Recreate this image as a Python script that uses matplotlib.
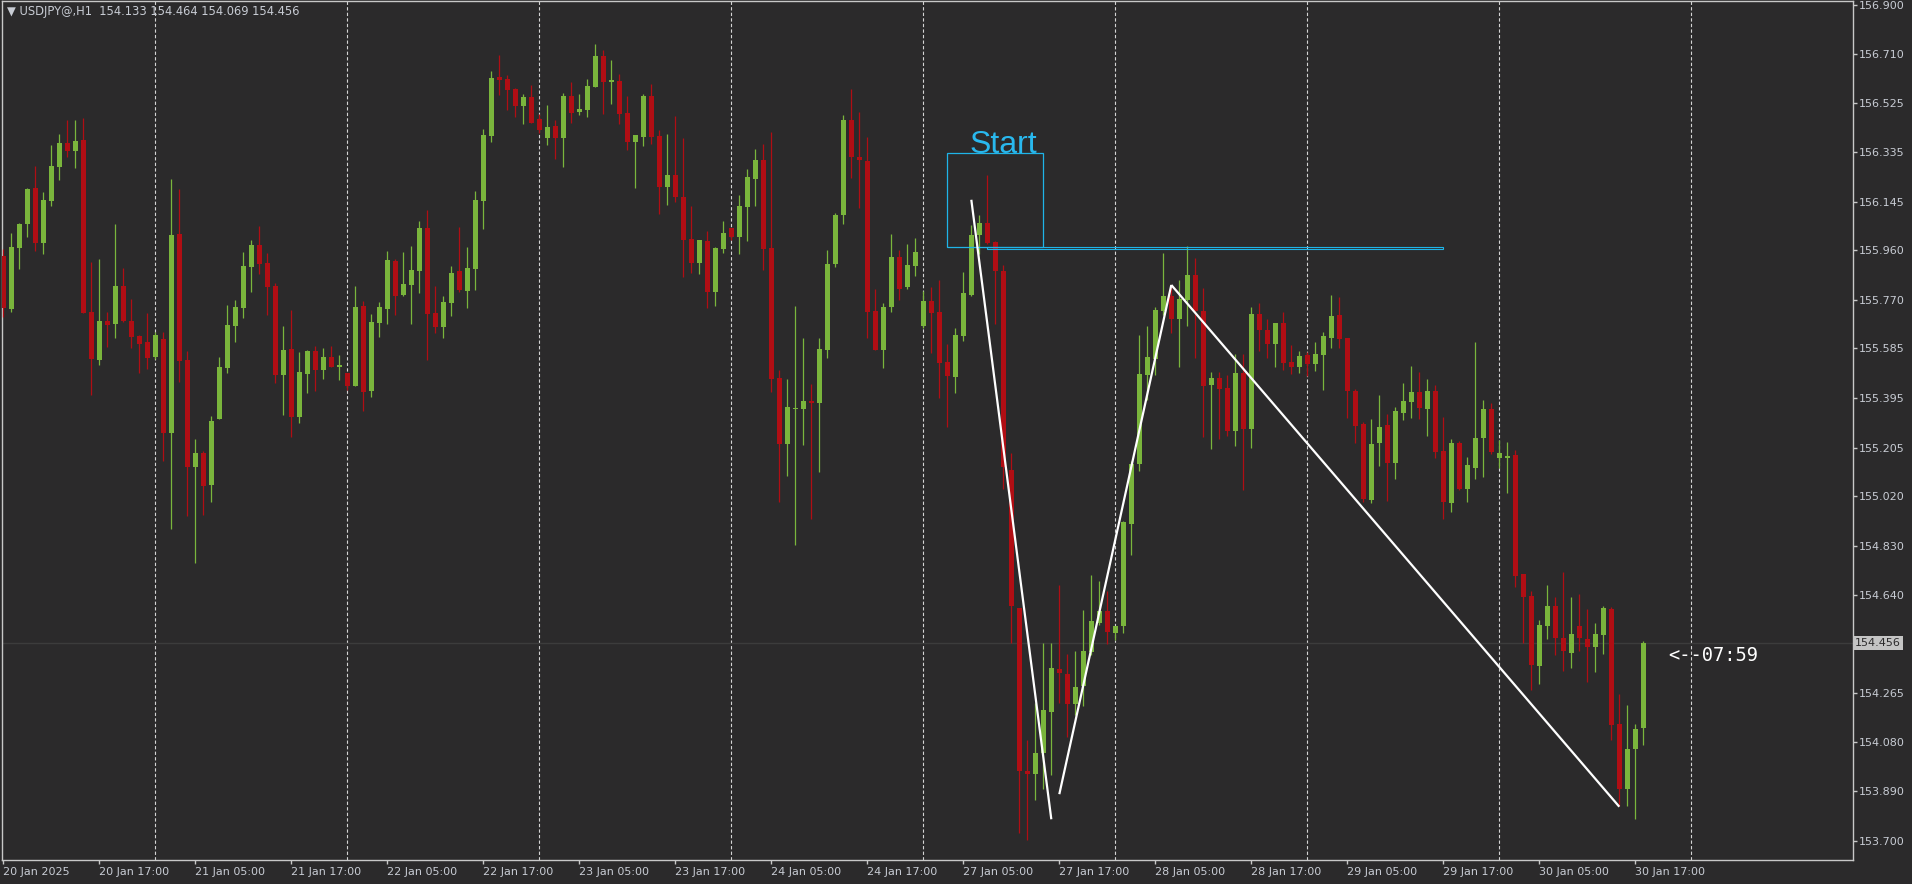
import numpy as np
import matplotlib
matplotlib.use("Agg")
import matplotlib.pyplot as plt
import matplotlib.transforms as mtransforms

# hourly USDJPY candles (bar 0 = 20 Jan 05:00)
open_ = [155.938, 155.735, 155.970, 156.061, 156.198, 155.989, 156.149, 156.279, 156.370, 156.339,
         156.381, 155.724, 155.540, 155.689, 155.678, 155.823, 155.689, 155.632, 155.609, 155.551,
         155.620, 155.261, 156.022, 155.540, 155.131, 155.184, 155.062, 155.314, 155.509, 155.670,
         155.739, 155.896, 155.980, 155.911, 155.823, 155.483, 155.582, 155.322, 155.486, 155.574,
         155.502, 155.551, 155.513, 155.490, 155.441, 155.747, 155.421, 155.682, 155.735, 155.919,
         155.789, 155.827, 155.881, 156.045, 155.720, 155.666, 155.758, 155.881, 155.804, 155.888,
         156.148, 156.397, 156.623, 156.615, 156.577, 156.512, 156.546, 156.462, 156.389, 156.435,
         156.389, 156.550, 156.489, 156.497, 156.584, 156.703, 156.604, 156.607, 156.485, 156.374,
         156.393, 156.550, 156.397, 156.202, 156.248, 156.164, 156.003, 155.911, 155.995, 155.800,
         155.965, 156.045, 156.011, 156.125, 156.232, 156.305, 155.969, 155.471, 155.219, 155.353,
         155.353, 155.383, 155.376, 155.577, 155.907, 156.096, 156.458, 156.318, 156.302, 155.727,
         155.577, 155.741, 155.933, 155.819, 155.901, 155.671, 155.765, 155.723, 155.531, 155.475,
         155.631, 155.789, 156.017, 156.063, 155.991, 155.879, 155.119, 154.593, 153.967, 153.957,
         154.035, 154.195, 154.357, 154.339, 154.225, 154.291, 154.424, 154.534, 154.580, 154.497,
         154.524, 154.914, 155.143, 155.484, 155.545, 155.728, 155.785, 155.698, 155.771, 155.865,
         155.728, 155.446, 155.471, 155.434, 155.270, 155.490, 155.277, 155.716, 155.655, 155.602,
         155.682, 155.532, 155.514, 155.559, 155.526, 155.560, 155.625, 155.712, 155.624, 155.421,
         155.295, 155.006, 155.224, 155.291, 155.147, 155.339, 155.381, 155.418, 155.354, 155.421,
         155.192, 154.994, 155.222, 155.048, 155.128, 155.240, 155.353, 155.166, 155.166, 155.177,
         154.721, 154.637, 154.371, 154.524, 154.599, 154.477, 154.420, 154.522, 154.473, 154.443,
         154.489, 154.588, 154.148, 153.900, 154.052, 154.133]
high = [155.963, 156.026, 156.064, 156.198, 156.282, 156.183, 156.362, 156.404, 156.458, 156.458,
        156.466, 155.915, 155.926, 155.724, 156.060, 155.892, 155.773, 155.635, 155.720, 155.647,
        155.647, 156.232, 156.194, 155.574, 155.238, 155.192, 155.326, 155.551, 155.750, 155.769,
        155.953, 155.999, 156.052, 155.949, 155.834, 155.670, 155.731, 155.571, 155.578, 155.594,
        155.586, 155.594, 155.559, 155.492, 155.823, 155.766, 155.716, 155.762, 155.957, 155.926,
        155.953, 155.976, 156.072, 156.114, 155.823, 155.785, 155.900, 156.049, 155.972, 156.187,
        156.424, 156.646, 156.707, 156.630, 156.581, 156.558, 156.592, 156.481, 156.516, 156.458,
        156.561, 156.604, 156.558, 156.615, 156.749, 156.726, 156.688, 156.634, 156.550, 156.401,
        156.558, 156.596, 156.420, 156.405, 156.473, 156.389, 156.129, 155.999, 156.034, 155.972,
        156.072, 156.045, 156.171, 156.271, 156.347, 156.366, 156.412, 155.502, 155.467, 155.747,
        155.624, 155.448, 155.624, 155.961, 156.104, 156.476, 156.578, 156.490, 156.392, 155.811,
        155.757, 156.021, 155.961, 155.983, 156.007, 155.805, 155.821, 155.845, 155.601, 155.663,
        155.877, 156.055, 156.096, 156.248, 155.997, 155.905, 155.185, 154.593, 154.087, 154.227,
        154.457, 154.457, 154.681, 154.417, 154.427, 154.583, 154.718, 154.695, 154.656, 154.523,
        154.925, 155.154, 155.636, 155.670, 155.743, 155.949, 155.827, 155.846, 155.976, 155.930,
        155.816, 155.494, 155.494, 155.483, 155.563, 155.563, 155.743, 155.758, 155.697, 155.682,
        155.724, 155.597, 155.574, 155.571, 155.609, 155.647, 155.789, 155.781, 155.625, 155.430,
        155.303, 155.314, 155.406, 155.333, 155.360, 155.452, 155.517, 155.494, 155.467, 155.444,
        155.322, 155.238, 155.230, 155.169, 155.609, 155.387, 155.376, 155.234, 155.226, 155.196,
        154.721, 154.655, 154.545, 154.679, 154.633, 154.729, 154.633, 154.645, 154.588, 154.534,
        154.599, 154.595, 154.264, 154.220, 154.148, 154.464]
low = [155.706, 155.725, 155.889, 156.012, 155.957, 155.947, 156.130, 156.230, 156.318, 156.276,
       155.718, 155.406, 155.521, 155.590, 155.624, 155.685, 155.586, 155.490, 155.505, 155.544,
       155.153, 154.893, 155.456, 154.943, 154.763, 154.947, 154.997, 155.314, 155.490, 155.609,
       155.701, 155.800, 155.869, 155.712, 155.452, 155.330, 155.245, 155.299, 155.414, 155.421,
       155.467, 155.513, 155.464, 155.425, 155.441, 155.345, 155.399, 155.628, 155.678, 155.712,
       155.785, 155.678, 155.796, 155.540, 155.643, 155.624, 155.708, 155.800, 155.739, 155.808,
       156.041, 156.374, 156.554, 156.496, 156.470, 156.443, 156.447, 156.408, 156.363, 156.309,
       156.278, 156.447, 156.477, 156.470, 156.584, 156.481, 156.519, 156.443, 156.343, 156.198,
       156.359, 156.366, 156.099, 156.133, 156.144, 155.858, 155.873, 155.869, 155.739, 155.747,
       155.949, 155.999, 155.946, 155.995, 156.129, 155.884, 155.418, 154.998, 155.096, 154.833,
       155.215, 154.932, 155.112, 155.547, 155.895, 156.061, 156.238, 156.122, 155.623, 155.577,
       155.511, 155.725, 155.771, 155.813, 155.863, 155.663, 155.567, 155.393, 155.285, 155.415,
       155.613, 155.783, 155.947, 155.985, 155.677, 155.045, 154.457, 153.732, 153.702, 153.857,
       153.897, 153.951, 154.227, 154.097, 154.183, 154.217, 154.410, 154.526, 154.455, 154.470,
       154.497, 154.795, 155.117, 155.388, 155.484, 155.712, 155.645, 155.515, 155.671, 155.549,
       155.247, 155.201, 155.239, 155.251, 155.212, 155.044, 155.205, 155.576, 155.549, 155.514,
       155.503, 155.488, 155.492, 155.480, 155.499, 155.427, 155.587, 155.587, 155.319, 155.224,
       154.998, 154.994, 155.136, 155.002, 155.086, 155.312, 155.319, 155.316, 155.251, 155.166,
       154.933, 154.960, 155.044, 154.998, 155.086, 155.094, 155.182, 155.128, 155.033, 154.673,
       154.456, 154.279, 154.302, 154.474, 154.413, 154.352, 154.363, 154.428, 154.310, 154.348,
       154.417, 154.088, 153.835, 153.835, 153.785, 154.069]
close = [155.740, 155.972, 156.060, 156.194, 155.989, 156.152, 156.282, 156.370, 156.339, 156.378,
         155.721, 155.544, 155.689, 155.674, 155.823, 155.689, 155.628, 155.601, 155.548, 155.635,
         155.261, 156.018, 155.536, 155.131, 155.184, 155.058, 155.307, 155.513, 155.674, 155.743,
         155.899, 155.980, 155.907, 155.819, 155.482, 155.578, 155.322, 155.494, 155.574, 155.502,
         155.551, 155.513, 155.521, 155.441, 155.743, 155.418, 155.685, 155.743, 155.923, 155.785,
         155.831, 155.884, 156.045, 155.716, 155.666, 155.762, 155.873, 155.808, 155.892, 156.152,
         156.401, 156.619, 156.611, 156.573, 156.512, 156.546, 156.447, 156.420, 156.431, 156.389,
         156.550, 156.485, 156.500, 156.588, 156.703, 156.604, 156.611, 156.481, 156.374, 156.401,
         156.550, 156.393, 156.202, 156.248, 156.164, 155.999, 155.911, 155.999, 155.800, 155.969,
         156.026, 156.011, 156.129, 156.240, 156.305, 155.965, 155.467, 155.219, 155.360, 155.356,
         155.383, 155.376, 155.582, 155.907, 156.096, 156.458, 156.318, 156.304, 155.723, 155.577,
         155.743, 155.933, 155.813, 155.903, 155.953, 155.765, 155.721, 155.527, 155.477, 155.635,
         155.795, 156.017, 156.063, 155.989, 155.879, 155.129, 154.597, 153.967, 153.957, 154.037,
         154.201, 154.361, 154.343, 154.225, 154.289, 154.427, 154.542, 154.580, 154.501, 154.523,
         154.920, 155.142, 155.486, 155.551, 155.731, 155.785, 155.698, 155.773, 155.865, 155.728,
         155.442, 155.471, 155.430, 155.270, 155.490, 155.277, 155.716, 155.656, 155.602, 155.682,
         155.530, 155.514, 155.555, 155.526, 155.563, 155.632, 155.708, 155.622, 155.423, 155.289,
         155.010, 155.219, 155.284, 155.147, 155.345, 155.383, 155.418, 155.358, 155.421, 155.189,
         154.998, 155.222, 155.048, 155.138, 155.242, 155.353, 155.189, 155.184, 155.173, 154.715,
         154.635, 154.372, 154.526, 154.599, 154.478, 154.428, 154.492, 154.478, 154.443, 154.492,
         154.591, 154.145, 153.900, 154.052, 154.128, 154.456]

time_labels = ["20 Jan 2025", "20 Jan 17:00", "21 Jan 05:00", "21 Jan 17:00", "22 Jan 05:00",
               "22 Jan 17:00", "23 Jan 05:00", "23 Jan 17:00", "24 Jan 05:00", "24 Jan 17:00",
               "27 Jan 05:00", "27 Jan 17:00", "28 Jan 05:00", "28 Jan 17:00", "29 Jan 05:00",
               "29 Jan 17:00", "30 Jan 05:00", "30 Jan 17:00"]
time_label_bars = [0, 12, 24, 36, 48, 60, 72, 84, 96, 108, 120, 132, 144, 156, 168, 180, 192, 204]
day_separator_bars = [19, 43, 67, 91, 115, 139, 163, 187, 211]
price_labels = ["153.700", "153.890", "154.080", "154.265", "154.640", "154.830", "155.020",
                "155.205", "155.395", "155.585", "155.770", "155.960", "156.145", "156.335",
                "156.525", "156.710", "156.900"]

# objects drawn on the chart: (bar, price) pairs
zigzag_legs = [[(121, 156.153), (131, 153.783)],
               [(132, 153.879), (146, 155.827)],
               [(146, 155.827), (202, 153.831)]]
start_box = {"bar0": 118, "bar1": 130, "low": 155.973, "high": 156.330}
level_band = {"bar0": 123, "bar1": 180, "low": 155.963, "high": 155.971}
countdown = "<--07:59"

BG = "#2b2a2b"
GREEN = "#7ab53c"
RED = "#b00e14"
TXT = "#c8ccd4"
LINE = "#c8c8c8"
CYAN = "#1fb4e8"

fig = plt.figure(figsize=(19.12, 8.84), dpi=100, facecolor=BG)
ax = fig.add_axes([2 / 1912, 24 / 884, 1851 / 1912, 859 / 884])
ax.set_facecolor(BG)
ax.set_xlim(-0.1625, 231.21)
ax.set_ylim(153.6272, 156.9134)

o = np.array(open_)
h = np.array(high)
l = np.array(low)
c = np.array(close)
x = np.arange(len(o))
colors = np.where(c >= o, GREEN, RED)

# day separators
for b in day_separator_bars:
    ax.axvline(b, color="#d4d4d4", lw=0.8, linestyle=(0, (3, 2)), zorder=1)

# current price line
ax.axhline(close[-1], color="#3c3c3c", lw=1, zorder=1)

ax.vlines(x, l, h, colors=colors, lw=0.9, zorder=3)
body_low = np.minimum(o, c)
body_h = np.maximum(np.abs(c - o), 1.2 / 261.4)
ax.bar(x, body_h, 0.625, bottom=body_low, color=colors, linewidth=0, zorder=4)

# level band and start box
ax.add_patch(plt.Rectangle((level_band["bar0"], level_band["low"]),
                           level_band["bar1"] - level_band["bar0"],
                           level_band["high"] - level_band["low"],
                           fill=False, ec=CYAN, lw=0.8, zorder=5))
ax.add_patch(plt.Rectangle((start_box["bar0"], start_box["low"]),
                           start_box["bar1"] - start_box["bar0"],
                           start_box["high"] - start_box["low"],
                           fill=False, ec=CYAN, lw=0.9, zorder=5))
ax.text((start_box["bar0"] + start_box["bar1"]) / 2 + 1, start_box["high"] + 0.002, "Start",
        color="#29b8ee", fontsize=23, family="Liberation Sans",
        ha="center", va="baseline", zorder=6)

for leg in zigzag_legs:
    xs, ys = zip(*leg)
    ax.plot(xs, ys, color="white", lw=1.6, solid_capstyle="butt", zorder=6)

ax.text(208.1, 154.408, countdown, color="white", fontsize=13.5,
        family="DejaVu Sans Mono", ha="left", va="center", zorder=6)

# axes styling
for s in ax.spines.values():
    s.set_color(LINE)
    s.set_linewidth(1)

ax.yaxis.tick_right()
ax.set_yticks([float(p) for p in price_labels])
ax.set_yticklabels(price_labels)
ax.tick_params(axis="y", direction="out", length=3, width=1, color=LINE,
               labelcolor=TXT, labelsize=8, pad=1.5)

ax.set_xticks(time_label_bars)
ax.set_xticklabels(time_labels)
ax.tick_params(axis="x", direction="out", length=3, width=1, color=LINE,
               labelcolor=TXT, labelsize=8, pad=2)
for t in ax.get_xticklabels():
    t.set_horizontalalignment("left")

# last price box on the price scale
trans = mtransforms.blended_transform_factory(ax.transAxes, ax.transData)
ax.text(1.0012, close[-1], f"{close[-1]:.3f}", transform=trans, ha="left", va="center",
        color=BG, fontsize=8, clip_on=False,
        bbox=dict(boxstyle="square,pad=0.18", fc="#c4c4c4", ec="none"))

# header
header = f"\u25bc USDJPY@,H1  {open_[-1]:.3f} {high[-1]:.3f} {low[-1]:.3f} {close[-1]:.3f}"
fig.text(7 / 1912, 1 - 11 / 884, header, color=TXT, fontsize=8.3, ha="left", va="center")

fig.savefig("out.png", dpi=100, facecolor=BG)
